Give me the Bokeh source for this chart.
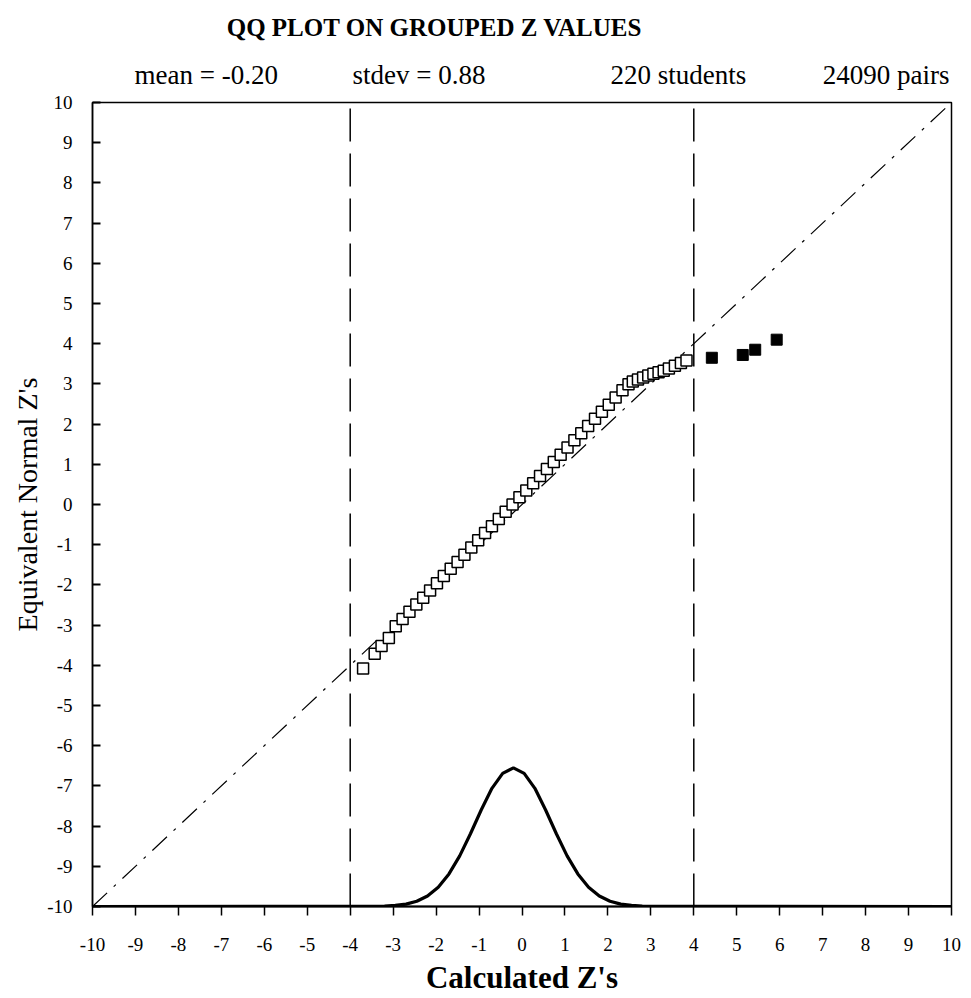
from bokeh.plotting import figure
from bokeh.layouts import column
from bokeh.models import Range1d, FixedTicker, Title
from bokeh.core.properties import value
from bokeh.embed import file_html
from bokeh.resources import INLINE

# ---- data ----
ticks = list(range(-10, 11))
tick_labels = {t: str(t) for t in ticks}

open_x = [-3.70, -3.43, -3.27, -3.10, -2.94, -2.78, -2.62, -2.46, -2.30, -2.14,
          -1.98, -1.82, -1.66, -1.50, -1.34, -1.18, -1.02, -0.86, -0.70, -0.54,
          -0.38, -0.22, -0.06, 0.10, 0.26, 0.42, 0.58, 0.74, 0.90, 1.06,
          1.22, 1.38, 1.54, 1.70, 1.86, 2.02, 2.18, 2.34, 2.48, 2.58,
          2.70, 2.82, 2.94, 3.06, 3.18, 3.30, 3.42, 3.56, 3.70, 3.83]
open_y = [-4.08, -3.71, -3.52, -3.32, -3.03, -2.85, -2.67, -2.49, -2.32, -2.14,
          -1.96, -1.78, -1.60, -1.43, -1.25, -1.07, -0.89, -0.71, -0.54, -0.36,
          -0.18, 0.00, 0.18, 0.35, 0.53, 0.71, 0.88, 1.06, 1.24, 1.42,
          1.60, 1.77, 1.95, 2.13, 2.31, 2.48, 2.66, 2.84, 2.99, 3.06,
          3.11, 3.16, 3.21, 3.25, 3.29, 3.33, 3.38, 3.45, 3.52, 3.58]

out_x = [4.42, 5.14, 5.43, 5.93]
out_y = [3.65, 3.72, 3.85, 4.10]

curve_x = [-10.0, -3.20, -2.95, -2.70, -2.45, -2.20, -1.95, -1.70, -1.45, -1.20,
           -0.95, -0.70, -0.45, -0.20, 0.05, 0.30, 0.55, 0.80, 1.05, 1.30,
           1.55, 1.80, 2.05, 2.30, 2.55, 2.80, 10.0]
curve_y = [-10.0, -9.99, -9.97, -9.94, -9.87, -9.74, -9.52, -9.19, -8.74, -8.19,
           -7.60, -7.06, -6.69, -6.55, -6.69, -7.06, -7.60, -8.19, -8.74, -9.19,
           -9.52, -9.74, -9.87, -9.94, -9.97, -9.99, -10.0]

ref_x = [-10, 10]
ref_y = [-10, 10]
cut_x = [-4, 4]
cut_y = [-10, 10]

title_text = "QQ PLOT ON GROUPED Z VALUES"
sub_texts = ["mean = -0.20", "stdev =  0.88", "220 students", "24090 pairs"]
x_title = "Calculated Z's"
y_title = "Equivalent Normal Z's"

FONT = "Liberation Serif"
W = 963
FL, FR = 92, 951   # frame left / right in page pixels (columns align frames)
HH = 90            # header height
TOP, FH, BOT = 12, 804, 96   # main plot: top border, frame height, bottom border

# ---- header (title + subtitle), pixel-space canvas aligned with the frame ----
head = figure(width=W, height=HH, output_backend="svg", toolbar_location=None,
              x_range=Range1d(FL, FR), y_range=Range1d(HH, 0),
              x_axis_type=None, y_axis_type=None,
              min_border_left=FL, min_border_right=W - FR, min_border_top=0,
              min_border_bottom=0)
head.grid.visible = False
head.outline_line_color = None
head.text(x=[434], y=[27], text=[title_text], text_align="center",
          text_baseline="middle", text_font=value(FONT), text_font_size="25px",
          text_font_style="bold", text_color="black")
head.text(x=[134, 352, 610], y=[74] * 3, text=sub_texts[:3], text_align="left",
          text_baseline="middle", text_font=value(FONT), text_font_size="27px",
          text_color="black")
head.text(x=[949], y=[74], text=sub_texts[3:], text_align="right",
          text_baseline="middle", text_font=value(FONT), text_font_size="27px",
          text_color="black")

# ---- main plot ----
p = figure(width=W, height=TOP + FH + BOT, output_backend="svg",
           toolbar_location=None,
           x_range=Range1d(-10, 10), y_range=Range1d(-10, 10),
           min_border_left=FL, min_border_right=W - FR, min_border_top=TOP,
           min_border_bottom=BOT)
p.title.text = ""
p.grid.visible = False
p.outline_line_color = "black"
p.outline_line_width = 1.5

p.xaxis.ticker = FixedTicker(ticks=ticks)
p.yaxis.ticker = FixedTicker(ticks=ticks)
for ax in (p.xaxis[0], p.yaxis[0]):
    ax.minor_tick_line_color = None
    ax.axis_line_color = "black"
    ax.major_tick_line_color = "black"
    ax.major_label_overrides = tick_labels
    ax.major_label_text_font = FONT
    ax.major_label_text_font_size = "19px"
    ax.major_label_text_color = "black"
p.xaxis.axis_line_width = 2
p.xaxis.major_tick_line_width = 1.5
p.xaxis.major_tick_in = 0
p.xaxis.major_tick_out = 9
p.xaxis.major_label_standoff = 22
p.xaxis.axis_label = x_title
p.xaxis.axis_label_text_font = FONT
p.xaxis.axis_label_text_font_size = "31px"
p.xaxis.axis_label_text_font_style = "bold"
p.xaxis.axis_label_text_color = "black"
p.xaxis.axis_label_standoff = 6
p.yaxis.axis_line_width = 1.5
p.yaxis.major_tick_line_width = 2
p.yaxis.major_tick_in = 8
p.yaxis.major_tick_out = 0
p.yaxis.major_label_standoff = 20

# y-axis title on the left
p.add_layout(Title(text=y_title, align="center", standoff=4,
                   text_font=FONT, text_font_size="28px",
                   text_font_style="normal", text_color="black"), "left")

# reference diagonal y = x
p.line(ref_x, ref_y, line_color="black", line_width=1.2, line_dash="20 9 3 9")

# cutoff lines
for cx in cut_x:
    p.line([cx, cx], cut_y, line_color="black", line_width=1.5, line_dash="33 12")

# normal curve with its baseline
p.line(curve_x, curve_y, line_color="black", line_width=3.2)

# open squares (within cutoffs) and filled squares (beyond)
p.scatter(open_x, open_y, marker="square", size=11, fill_color="white",
          line_color="black", line_width=1.5)
p.scatter(out_x, out_y, marker="square", size=11, fill_color="black",
          line_color="black", line_width=1)

layout = column(head, p, spacing=0)
open("out.html", "w").write(file_html(layout, INLINE))
